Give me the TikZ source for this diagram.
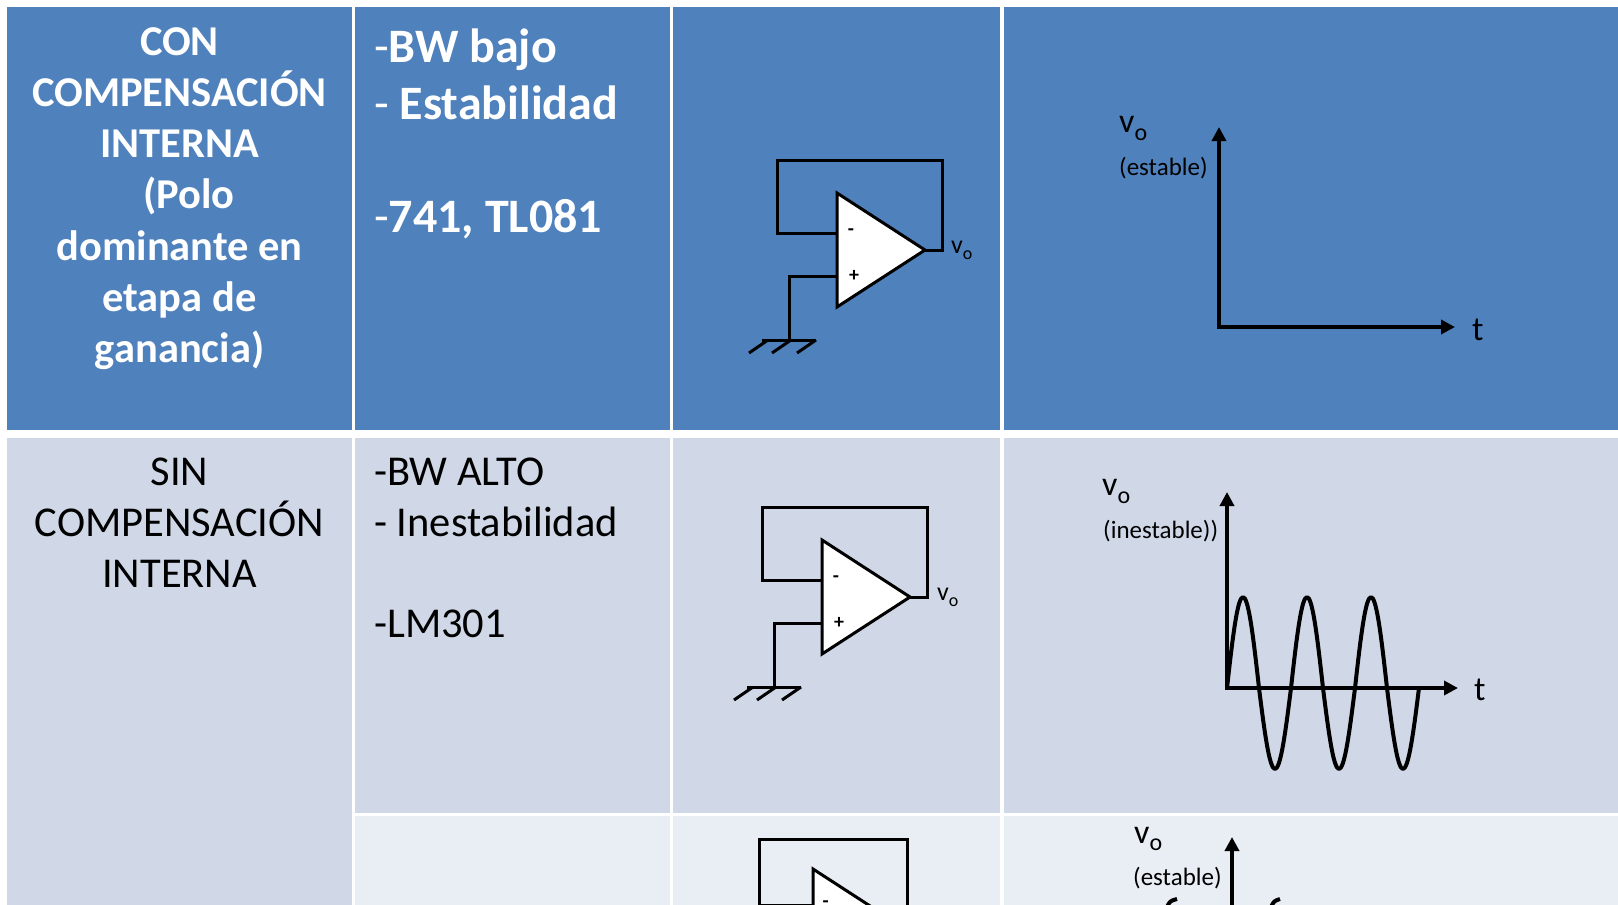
\documentclass[tikz,border=0pt]{standalone}
\usepackage{fontspec}
\setmainfont{Carlito}
\usetikzlibrary{arrows.meta}

\definecolor{hdrblue}{HTML}{4F81BD}
\definecolor{bandone}{HTML}{D0D8E8}
\definecolor{bandtwo}{HTML}{E9EDF4}

\tikzset{
  wire/.style={line width=3pt,line join=miter},
  axis/.style={line width=4.5pt,line join=miter},
  wave/.style={line width=4pt,line join=round},
  hdrtxt/.style={text=white,font=\fontsize{42.5}{51}\selectfont\bfseries,inner sep=0pt,anchor=base},
  hdrlist/.style={text=white,font=\fontsize{48}{57}\selectfont\bfseries,inner sep=0pt,anchor=base west},
  bodytxt/.style={font=\fontsize{42.5}{51}\selectfont,inner sep=0pt,anchor=base},
  bodylist/.style={font=\fontsize{42.5}{51}\selectfont,inner sep=0pt,anchor=base west},
  sign/.style={font=\fontsize{20}{20}\selectfont\bfseries,inner sep=0pt},
  vlabel/.style={font=\fontsize{26}{26}\selectfont,inner sep=0pt,anchor=base west},
  glabel/.style={font=\fontsize{34}{34}\selectfont,inner sep=0pt,anchor=base west},
  note/.style={font=\fontsize{25}{25}\selectfont,inner sep=0pt,anchor=base west}
}

% follower with grounded + input, #1 name prefix, (#2,#3) triangle left at tip height
\newcommand{\opampcirc}[4]{%
  \begin{scope}[shift={(#2,#3)},scale=#4]
    \coordinate (#1tt) at (0,-57);
    \coordinate (#1tb) at (0,57);
    \coordinate (#1tip) at (88,0);
    \coordinate (#1out) at (105,0);
    \coordinate (#1fr) at (105,-90);
    \coordinate (#1fl) at (-60,-90);
    \coordinate (#1inm) at (0,-17);
    \coordinate (#1inp) at (0,26);
    \coordinate (#1gnd) at (-48,90);
    \coordinate (#1gl) at (-75,90);
    \coordinate (#1gr) at (-21,90);
    \filldraw[wire,fill=white] (#1tt) -- (#1tip) -- (#1tb) -- cycle;
    \draw[wire] (#1tip) -- (#1out) -- (#1fr) -- (#1fl) |- (#1inm);
    \draw[wire] (#1inp) -| (#1gnd);
    \draw[wire] (#1gl) -- (#1gr);
    \foreach \dx in {-69,-46,-21}
      \draw[wire] (\dx,90) -- ++(-19,13);
    \node[sign] (#1minus) at (14,-18) {-};
    \node[sign] (#1plus) at (17,26) {+};
  \end{scope}}

\begin{document}
\begin{tikzpicture}[x=1pt,y=-1pt,>={Triangle[length=14pt,width=14pt]}]
  \useasboundingbox (0,0) rectangle (1618,905);
  \clip (0,0) rectangle (1618,905);
  \fill[white] (0,0) rectangle (1618,905);

  % table cells
  \foreach \xa/\xb in {7/352,355/670,673/1000,1004/1618}
    \fill[hdrblue] (\xa,7) rectangle (\xb,430);
  \fill[bandone] (7,438) rectangle (352,905);
  \foreach \xa/\xb in {355/670,673/1000,1004/1618}
  {
    \fill[bandone] (\xa,438) rectangle (\xb,813);
    \fill[bandtwo] (\xa,816) rectangle (\xb,905);
  }

  % first column
  \foreach \txt [count=\i] in {CON,COMPENSACIÓN,INTERNA,{\ \ (Polo},dominante en,etapa de,ganancia)}
    \node[hdrtxt] (conline\i) at (179.5,{55+51.3*(\i-1)}) {\txt};
  \foreach \txt [count=\i] in {SIN,COMPENSACIÓN,INTERNA}
    \node[bodytxt] (sinline\i) at (179.5,{485+51*(\i-1)}) {\txt};

  % second column
  \node[hdrlist] (bwbajo) at (374,62) {{\mdseries -}BW bajo};
  \node[hdrlist] (estab) at (374,119) {{\mdseries -} Estabilidad};
  \node[hdrlist] (chips) at (374,232) {{\mdseries -}741, TL081};
  \node[bodylist] (bwalto) at (374,485) {-BW ALTO};
  \node[bodylist] (inestab) at (374,536) {- Inestabilidad};
  \node[bodylist] (lmchip) at (374,637) {-LM301};

  % circuits
  \opampcirc{ca}{837}{250}{1}
  \opampcirc{cb}{822}{597}{1}
  \opampcirc{cc}{813}{920.3}{0.9}
  \node[vlabel] (cavo) at (951,253) {v\raisebox{-6pt}{\fontsize{18}{18}\selectfont o}};
  \node[vlabel] (cbvo) at (937,600) {v\raisebox{-6pt}{\fontsize{18}{18}\selectfont o}};

  % stable response
  \coordinate (gAcorner) at (1219,327);
  \coordinate (gAy) at (1219,127);
  \coordinate (gAx) at (1455,327);
  \draw[axis,<->] (gAy) -- (gAcorner) -- (gAx);
  \node[glabel] (gAv) at (1119,132) {v\raisebox{-8pt}{\fontsize{24}{24}\selectfont o}};
  \node[note] (gAnote) at (1119,175) {(estable)};
  \node[glabel] (gAt) at (1472,340) {t};

  % unstable response
  \coordinate (gBcorner) at (1227,688);
  \coordinate (gBy) at (1227,492);
  \coordinate (gBx) at (1458,688);
  \draw[axis,<->] (gBy) -- (gBcorner) -- (gBx);
  \draw[wave] plot[domain=0:192,samples=97,smooth]
    ({1227+\x},{688-86*sin(\x*5.625)-5*abs(sin(\x*5.625))});
  \node[glabel] (gBv) at (1102,495) {v\raisebox{-8pt}{\fontsize{24}{24}\selectfont o}};
  \node[note] (gBnote) at (1103,538) {(inestable))};
  \node[glabel] (gBt) at (1474,700) {t};

  % third row, cut by the page edge
  \coordinate (gCbot) at (1232,910);
  \coordinate (gCy) at (1232,837);
  \draw[axis,->] (gCbot) -- (gCy);
  \node[glabel] (gCv) at (1134,843) {v\raisebox{-7pt}{\fontsize{24}{24}\selectfont o}};
  \node[note] (gCnote) at (1133,885) {(estable)};
  \draw[wave] (1167,907) .. controls (1170,901) .. (1177,899);
  \draw[wave] (1271,907) .. controls (1274,901) .. (1280,899);
\end{tikzpicture}
\end{document}
